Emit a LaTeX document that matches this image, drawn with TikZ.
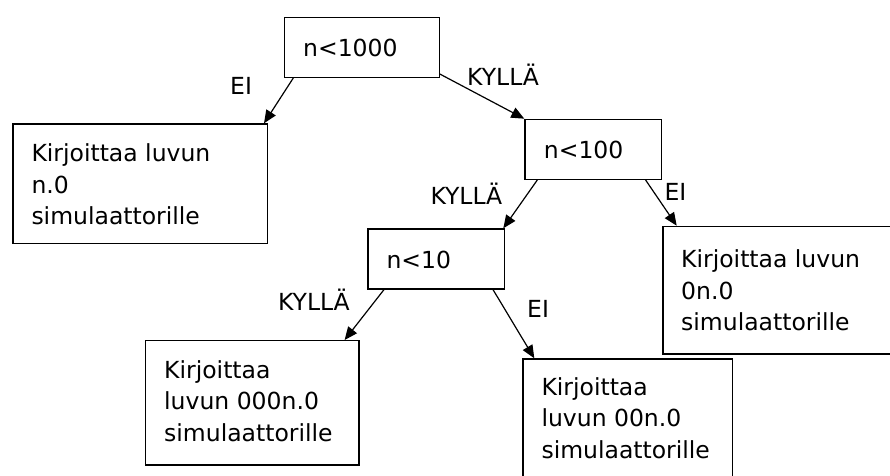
\documentclass[tikz,border=0pt]{standalone}
\usepackage{fontspec}
\setmainfont{DejaVu Sans}
\usetikzlibrary{arrows.meta}
\tikzset{
  box/.style={draw=black, line width=1.3pt, rectangle, inner sep=0pt, anchor=north west},
  txt/.style={inner sep=0pt, align=left, font=\fontsize{23.5}{31.5}\selectfont},
  lbl/.style={inner sep=0pt, font=\fontsize{23.5}{31.5}\selectfont},
  conn/.style={draw=black, line width=1.2pt, -{Triangle[length=13pt,width=11pt]}}
}
\begin{document}
\begin{tikzpicture}[x=1pt,y=1pt]
\useasboundingbox (0,0) rectangle (890,-475);
\clip (0,0) rectangle (890,-475);
% boxes
\node[box, minimum width=155pt, minimum height=60pt] (A) at (283.5,-16.7) {};
\node[box, minimum width=254.4pt, minimum height=119.4pt] (B) at (12.3,-123.3) {};
\node[box, minimum width=136.7pt, minimum height=60pt] (C) at (524.3,-118.7) {};
\node[box, minimum width=136.7pt, minimum height=60pt] (D) at (367.3,-228.3) {};
\node[box, minimum width=260pt, minimum height=127.6pt] (E) at (662.3,-225.7) {};
\node[box, minimum width=213.3pt, minimum height=124.3pt] (F) at (145,-340) {};
\node[box, minimum width=209.7pt, minimum height=140pt] (G) at (522.3,-358.3) {};
% texts
\node[lbl, anchor=base west] (At) at (303,-56) {n<1000};
\node[txt, anchor=north west] (Bt) at (31.3,-143.8) {Kirjoittaa luvun\\n.0\\simulaattorille};
\node[lbl, anchor=base west] (Ct) at (543.7,-158.3) {n<100};
\node[lbl, anchor=base west] (Dt) at (386.3,-268.3) {n<10};
\node[txt, anchor=north west] (Et) at (681,-249.8) {Kirjoittaa luvun\\0n.0\\simulaattorille};
\node[txt, anchor=north west] (Ft) at (164,-360.4) {Kirjoittaa\\luvun 000n.0\\simulaattorille};
\node[txt, anchor=north west] (Gt) at (541.3,-377.1) {Kirjoittaa\\luvun 00n.0\\simulaattorille};
% edge labels
\node[lbl, anchor=base west] (l1) at (230,-94) {EI};
\node[lbl, anchor=base west] (l2) at (467,-85) {KYLLÄ};
\node[lbl, anchor=base west] (l3) at (430.3,-204) {KYLLÄ};
\node[lbl, anchor=base west] (l4) at (664.4,-200.7) {EI};
\node[lbl, anchor=base east] (l5) at (350,-310) {KYLLÄ};
\node[lbl, anchor=base west] (l6) at (527,-317.7) {EI};
% connectors
\draw[conn] ([xshift=9.8pt]A.south west) -- ([xshift=-4pt]B.north east);
\draw[conn] ([yshift=4pt]A.south east) -- (C.north west);
\draw[conn] ([xshift=13pt]C.south west) -- ([xshift=-2pt]D.north east);
\draw[conn] ([xshift=-16.7pt]C.south east) -- ([xshift=14.4pt]E.north west);
\draw[conn] ([xshift=16.7pt]D.south west) -- ([xshift=-15pt]F.north east);
\draw[conn] ([xshift=-12.3pt]D.south east) -- ([xshift=12pt]G.north west);
\end{tikzpicture}
\end{document}
